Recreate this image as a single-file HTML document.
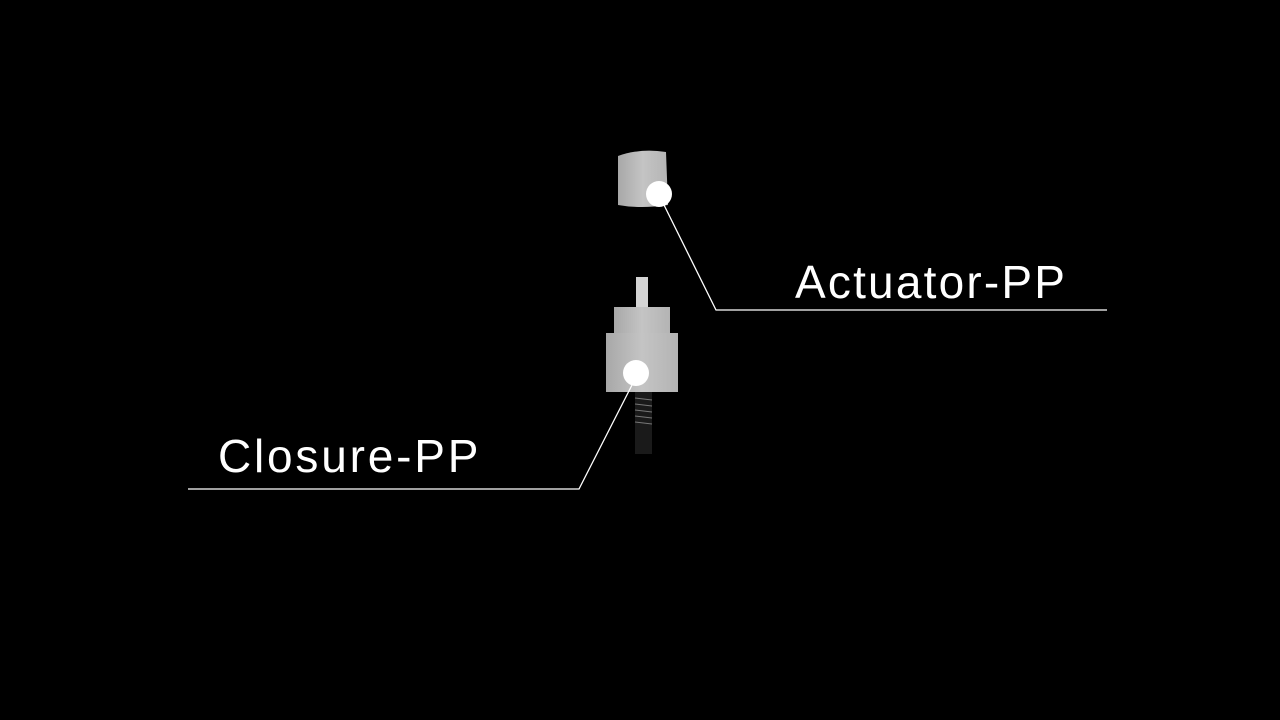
<!DOCTYPE html>
<html><head><style>
body{margin:0;width:1280px;height:720px;background:#000;overflow:hidden;position:relative;font-family:"Liberation Sans","DejaVu Sans",sans-serif}
.t{position:absolute;color:#fff;font-size:46px;line-height:1;letter-spacing:2.5px}
</style></head><body>
<svg width="1280" height="720" style="position:absolute;left:0;top:0">
<defs>
<linearGradient id="g" x1="0" x2="1"><stop offset="0" stop-color="#a8a8a8"/><stop offset="0.5" stop-color="#c4c4c4"/><stop offset="1" stop-color="#b4b4b4"/></linearGradient>
</defs>
<path d="M618 156 Q640 148 666 152 L668 205 Q640 209 618 205 Z" fill="url(#g)"/>
<rect x="636" y="277" width="12" height="31" fill="#d4d4d4"/>
<rect x="614" y="307" width="56" height="26" fill="url(#g)"/>
<rect x="606" y="333" width="72" height="59" fill="url(#g)"/>
<rect x="635" y="392" width="17" height="62" fill="#1a1a1a"/>
<g stroke="#777" stroke-width="1">
<line x1="635" y1="398" x2="652" y2="400"/><line x1="635" y1="404" x2="652" y2="406"/><line x1="635" y1="410" x2="652" y2="412"/><line x1="635" y1="416" x2="652" y2="418"/><line x1="635" y1="422" x2="652" y2="424"/>
</g>
<g stroke="#fff" stroke-width="1.3" fill="none">
<polyline points="664,205 716,310 1107,310"/>
<polyline points="632,385 579,489 188,489"/>
</g>
<circle cx="659" cy="194" r="13" fill="#fff"/>
<circle cx="636" cy="373" r="13" fill="#fff"/>
</svg>
<div class="t" style="left:795px;top:259px;letter-spacing:2.2px">Actuator-PP</div>
<div class="t" style="left:218px;top:433px;letter-spacing:2.8px">Closure-PP</div>
</body></html>
